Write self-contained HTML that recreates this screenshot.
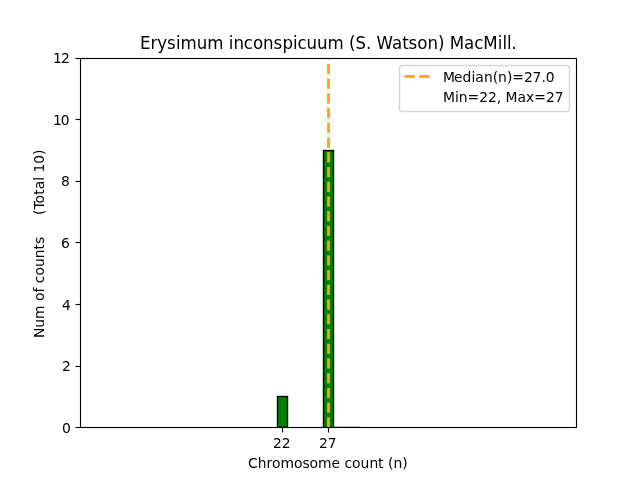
<!DOCTYPE html>
<html lang="en">
<head>
<meta charset="utf-8">
<title>Erysimum inconspicuum (S. Watson) MacMill.</title>
<style>
html,body{margin:0;padding:0;background:#fff;}
body{width:640px;height:480px;overflow:hidden;}
svg{display:block;}
text{font-family:"DejaVu Sans","Liberation Sans",sans-serif;fill:#000;white-space:pre;}
.t10{font-size:13.889px;}
.t12{font-size:16.667px;}
</style>
</head>
<body>
<svg width="640" height="480" viewBox="0 0 640 480">
<defs>
<clipPath id="ax"><rect x="80" y="58" width="497" height="370"/></clipPath>
</defs>
<rect x="0" y="0" width="640" height="480" fill="#ffffff"/>
<!-- bars -->
<g clip-path="url(#ax)" fill="#008000" stroke="#000" stroke-width="1.389" stroke-linejoin="miter">
<rect x="277.5" y="396.5" width="10" height="31"/>
<rect x="323.5" y="150.5" width="10" height="277"/>
</g>
<rect x="334" y="426" width="26" height="1" fill="#000" fill-opacity="0.2"/>
<rect x="360" y="426" width="1" height="1" fill="#000" fill-opacity="0.1"/>
<!-- median line -->
<g clip-path="url(#ax)" fill="#ffa500">
<rect x="327.111" y="417.222" width="2.778" height="10.278"/>
<rect x="327.111" y="402.500" width="2.778" height="10.278"/>
<rect x="327.111" y="387.778" width="2.778" height="10.278"/>
<rect x="327.111" y="373.056" width="2.778" height="10.278"/>
<rect x="327.111" y="358.333" width="2.778" height="10.278"/>
<rect x="327.111" y="343.611" width="2.778" height="10.278"/>
<rect x="327.111" y="328.889" width="2.778" height="10.278"/>
<rect x="327.111" y="314.167" width="2.778" height="10.278"/>
<rect x="327.111" y="299.445" width="2.778" height="10.278"/>
<rect x="327.111" y="284.722" width="2.778" height="10.278"/>
<rect x="327.111" y="270.000" width="2.778" height="10.278"/>
<rect x="327.111" y="255.278" width="2.778" height="10.278"/>
<rect x="327.111" y="240.556" width="2.778" height="10.278"/>
<rect x="327.111" y="225.834" width="2.778" height="10.278"/>
<rect x="327.111" y="211.111" width="2.778" height="10.278"/>
<rect x="327.111" y="196.389" width="2.778" height="10.278"/>
<rect x="327.111" y="181.667" width="2.778" height="10.278"/>
<rect x="327.111" y="166.945" width="2.778" height="10.278"/>
<rect x="327.111" y="152.223" width="2.778" height="10.278"/>
<rect x="327.111" y="137.500" width="2.778" height="10.278"/>
<rect x="327.111" y="122.778" width="2.778" height="10.278"/>
<rect x="327.111" y="108.056" width="2.778" height="10.278"/>
<rect x="327.111" y="93.334" width="2.778" height="10.278"/>
<rect x="327.111" y="78.612" width="2.778" height="10.278"/>
<rect x="327.111" y="63.889" width="2.778" height="10.278"/>
<rect x="327.111" y="49.167" width="2.778" height="10.278"/>
</g>
<!-- ticks -->
<g stroke="#000" stroke-width="1.111" fill="none">
<line x1="282.5" y1="428" x2="282.5" y2="432.5"/>
<line x1="328.5" y1="428" x2="328.5" y2="432.5"/>
<line x1="80" y1="427.5" x2="75.5" y2="427.5"/>
<line x1="80" y1="366.5" x2="75.5" y2="366.5"/>
<line x1="80" y1="304.5" x2="75.5" y2="304.5"/>
<line x1="80" y1="242.5" x2="75.5" y2="242.5"/>
<line x1="80" y1="181.5" x2="75.5" y2="181.5"/>
<line x1="80" y1="119.5" x2="75.5" y2="119.5"/>
<line x1="80" y1="58.5" x2="75.5" y2="58.5"/>
</g>
<!-- spines -->
<rect x="80.5" y="58.5" width="496" height="369" fill="none" stroke="#000" stroke-width="1.111" stroke-linejoin="miter"/>
<!-- tick labels -->
<g class="t10">
<text x="273 281.75" y="448">22</text>
<text x="319 327.75" y="448">27</text>
<text x="248 257.75 266.5 272 280.5 294 302.5 309.62 318.12 331.62 340.12 344.5 352.12 360.62 369.38 378.12 383.62 388 393.5 402.25" y="468.47">Chromosome count (n)</text>
</g>
<g class="t10" text-anchor="end">
<text x="70.9" y="433">0</text>
<text x="70.9" y="370.88">2</text>
<text x="70.8" y="310.2">4</text>
<text x="69.8" y="247.78">6</text>
<text x="69.85" y="186.08">8</text>
</g>
<g class="t10">
<text x="52.92 60.67" y="125">10</text>
<text x="52.88 60.88" y="62.88">12</text>
</g>
<text class="t10" x="-94.05 -83.67 -74.92 -61.3 -57.05 -48.55 -43.55 -39.17 -31.55 -23.05 -14.3 -5.55 -0.05 7.08 11.45 15.83 20.2 24.58 28.95 34.45 40.58 49.2 54.7 63.2 67.08 71.45 80.33 89.08" y="0" transform="translate(44.16,244) rotate(-90)" xml:space="preserve">Num of counts     (Total 10)</text>
<text class="t12" x="140 150.5 157.25 167.12 175.88 180.5 196.75 207.25 223.5 228.75 233.38 243.88 253 263.12 273.62 282.38 293 297.5 306.62 317.12 327.62 343.88 349.12 355.5 366 371.25 376.5 392 402.25 408.62 417.38 427.5 438 444.5 449.75 464.12 474.25 483.38 497.75 502.38 507 511.62" y="0" transform="translate(0,49) scale(1,1.08)">Erysimum inconspicuum (S. Watson) MacMill.</text>
<!-- legend -->
<rect x="399.5" y="65.5" width="170" height="46" rx="2.78" ry="2.78" fill="#fff" fill-opacity="0.8" stroke="#ccc" stroke-opacity="0.8" stroke-width="1.389"/>
<rect x="404.5" y="75.111" width="10.278" height="2.778" fill="#ffa500"/>
<rect x="419.222" y="75.111" width="10.278" height="2.778" fill="#ffa500"/>
<g class="t10">
<text x="442.88 454 462.38 471.38 475.25 483.88 492.75 498.12 506.88 512.25 523.88 532.5 541.38 545.75" y="81.5">Median(n)=27.0</text>
<text x="442.9 454.9 458.77 467.52 479.15 487.9 496.65 501.02 505.4 517.4 526.02 534.27 545.9 554.65" y="102">Min=22, Max=27</text>
</g>
</svg>
</body>
</html>
